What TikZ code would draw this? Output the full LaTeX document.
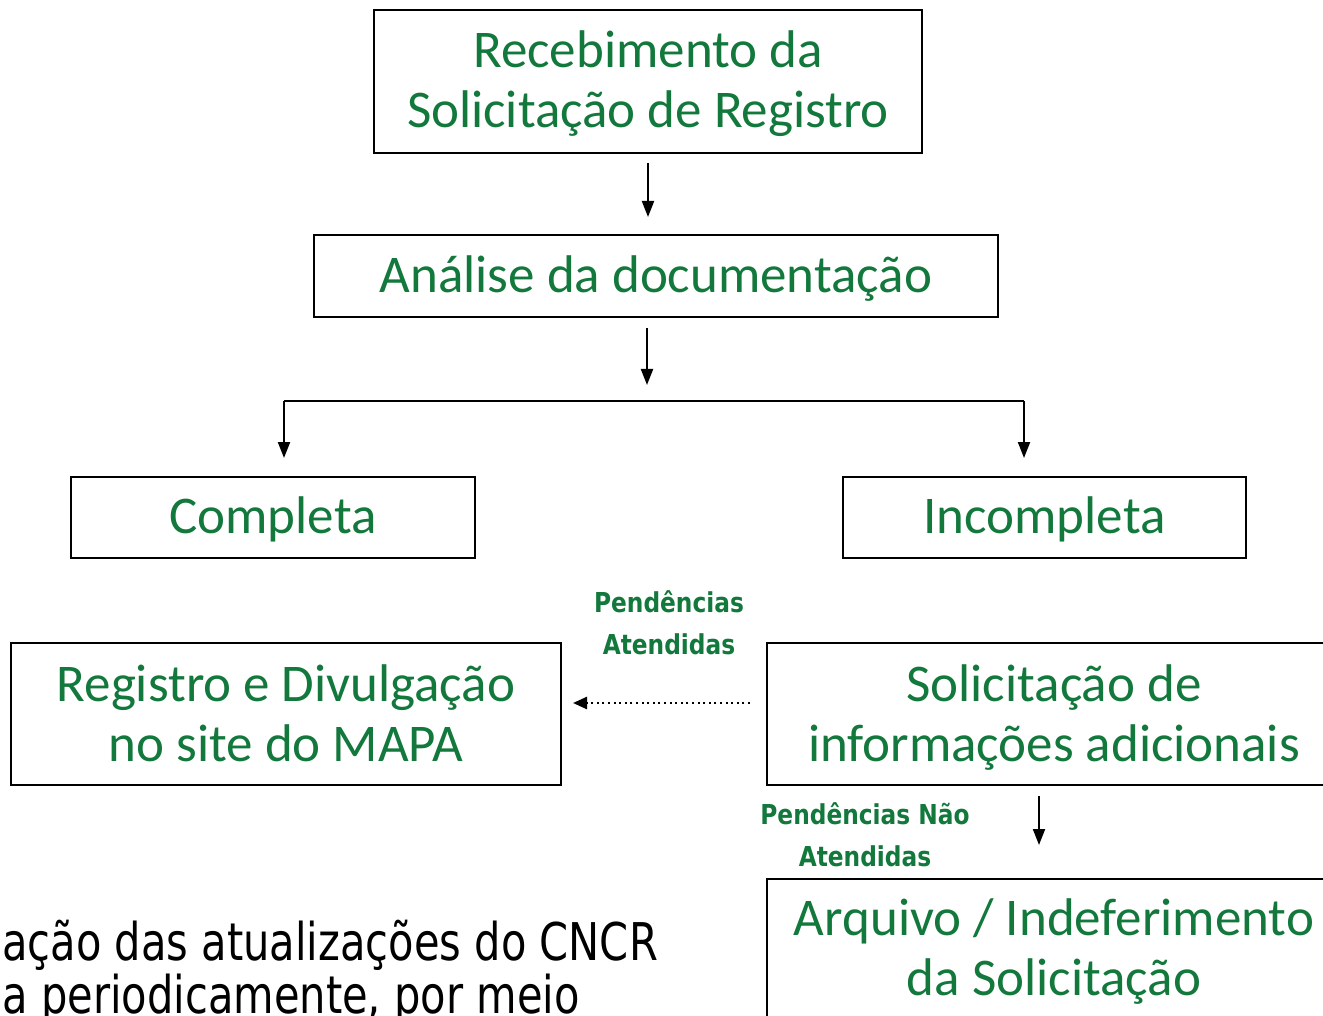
\documentclass[tikz,border=0pt]{standalone}
\usepackage{fontspec}
\setmainfont{Carlito}
\newfontfamily\bodyfont[FakeStretch=0.8]{DejaVu Sans}
\newfontfamily\labelfont[FakeStretch=0.85]{DejaVu Sans}
\usetikzlibrary{arrows.meta}
\definecolor{ggreen}{RGB}{18,120,60}
\begin{document}
\begin{tikzpicture}[x=0.5pt,y=-0.5pt,
  box/.style={draw=black, line width=1pt, inner sep=0pt},
  btxt/.style={inner sep=0pt, align=center, text=ggreen,
    font=\fontsize{26.5}{30}\selectfont},
  arr/.style={line width=1pt, -{Triangle[length=8pt,width=6pt]}},
  darr/.style={line width=1.2pt, dash pattern=on 1pt off 1.8pt, -{Triangle[length=7pt,width=6pt]}},
  conn/.style={line width=1pt},
  lab/.style={text=ggreen, align=center, inner sep=0pt,
    font=\labelfont\bfseries\fontsize{13.7}{21}\selectfont},
  body/.style={anchor=base west, inner sep=0pt, text=black,
    font=\bodyfont\fontsize{26}{26}\selectfont}]
\useasboundingbox (0,0) rectangle (1323,1016);
\fill[white] (0,0) rectangle (1323,1016);
\clip (0,0) rectangle (1323,1016);

\node[box, minimum width=274pt, minimum height=71.5pt] (b1) at (648,81.5) {};
\node[box, minimum width=342pt, minimum height=41pt] (b2) at (656,276) {};
\node[box, minimum width=202pt, minimum height=40.5pt] (comp) at (273,517.5) {};
\node[box, minimum width=201.5pt, minimum height=40.5pt] (inc) at (1044.5,517.5) {};
\node[box, minimum width=275pt, minimum height=71pt] (reg) at (286,714) {};
\node[box, minimum width=287pt, minimum height=71pt] (sol) at (1054,714) {};
\node[box, minimum width=287pt, minimum height=71pt] (arq) at (1054,950) {};

\node[btxt] (b1t) at ([yshift=-1pt]b1.center) {Recebimento da\\Solicitação de Registro};
\node[btxt] (b2t) at ([yshift=-1.5pt]b2.center) {Análise da documentação};
\node[btxt] (compt) at ([yshift=-1pt]comp.center) {Completa};
\node[btxt] (inct) at ([yshift=-1pt]inc.center) {Incompleta};
\node[btxt] (regt) at ([yshift=0.5pt]reg.center) {Registro e Divulgação\\no site do MAPA};
\node[btxt] (solt) at ([yshift=-2pt]sol.center) {Solicitação de\\informações adicionais};
\node[btxt] (arqt) at ([yshift=-1pt]arq.center) {Arquivo / Indeferimento\\da Solicitação};

\coordinate (split) at (647,401);
\coordinate (bl) at (284,401);
\coordinate (br) at (1024,401);
\coordinate (dy) at (0,703);
\coordinate (dx) at (1039,0);

\draw[arr, shorten <=4.5pt, shorten >=8.5pt] (b1.south) -- (b1.south |- b2.north);
\draw[arr, shorten <=5pt, shorten >=8pt] (b2.south -| split) -- (split);
\draw[conn] (bl) -- (br);
\draw[arr, shorten >=9pt] (bl) -- (bl |- comp.north);
\draw[arr, shorten >=9pt] (br) -- (br |- inc.north);
\draw[darr, shorten <=8pt, shorten >=5.5pt] (sol.west |- dy) -- (reg.east |- dy);
\draw[arr, shorten <=5pt, shorten >=16.5pt] (sol.south -| dx) -- (arq.north -| dx);

\node[lab] (l1) at (669,623) {Pendências\\Atendidas};
\node[lab] (l2) at (865,835) {Pendências Não\\Atendidas};

\node[body] (t1) at (2,960) {ação das atualizações do CNCR};
\node[body] (t2) at (2,1013) {a periodicamente, por meio};
\end{tikzpicture}
\end{document}
